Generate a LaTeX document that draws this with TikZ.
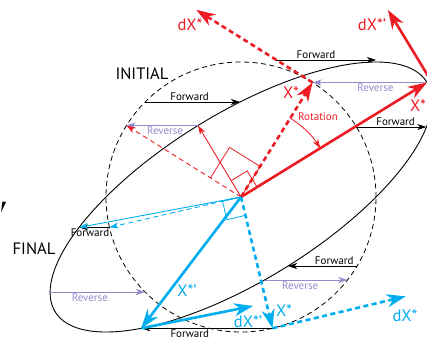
\documentclass[tikz,border=0pt]{standalone}
\usepackage{fontspec}
\setmainfont{PT Sans}
\usetikzlibrary{arrows.meta,positioning}
\definecolor{xred}{RGB}{237,28,36}
\definecolor{xblue}{RGB}{0,174,239}
\definecolor{revcol}{RGB}{146,140,204}

\begin{document}
\begin{tikzpicture}[x=1pt,y=1pt,
thickvec/.style={-{Stealth[length=19pt,width=13pt,inset=6pt]},line width=2.6pt},
thinvec/.style={-{Stealth[length=9pt,width=6pt,inset=2.5pt]},line width=0.9pt},
dsh/.style={dash pattern=on 5pt off 3.5pt},
fwd/.style={thinvec,line width=0.8pt,black},
rev/.style={thinvec,line width=0.8pt,revcol},
tag/.style={font=\fontsize{11}{13}\selectfont,inner sep=1pt},
vlab/.style={font=\fontsize{16.5}{18}\selectfont,inner sep=0pt}]
\useasboundingbox (0,0) rectangle (427,341);
\clip (0,0) rectangle (427,341);
% centre and end points
\coordinate (O) at (241,144);
\coordinate (rC) at (312.5,258.5);
\coordinate (rE) at (427,258.5);
\coordinate (rdC) at (196.3,331.1);
\coordinate (rdE) at (388,331);
\coordinate (rdB) at (433,257);
\coordinate (rmC) at (126.5,215.5);
\coordinate (rmE) at (198,215.5);
\coordinate (bC) at (272.5,12.7);
\coordinate (bE) at (141.2,12.7);
\coordinate (bdC) at (405.7,44.7);
\coordinate (bdE) at (253,35);
\coordinate (bmC) at (109.5,113.6);
\coordinate (bmE) at (79.1,113.6);
% circle and sheared circle
\draw[dsh,line width=0.8pt] (O) circle (135);
\draw[line width=0.9pt,cm={1,0,1,1,(241,144)}] (0,0) circle (135);
% forward / reverse
\coordinate (f1a) at (145,239); \coordinate (f1b) at (240,239);
\coordinate (f2a) at (276,281); \coordinate (f2b) at (376,281);
\coordinate (f3a) at (356.4,214); \coordinate (f3b) at (426.4,214);
\coordinate (f5a) at (357,75); \coordinate (f5b) at (288,75);
\coordinate (r3a) at (50,49); \coordinate (r3b) at (145,49);
\coordinate (r4a) at (264.5,61); \coordinate (r4b) at (347.5,61);
\draw[fwd] (f1a)--node[tag,above,pos=0.47]{Forward}(f1b);
\draw[fwd] (f2a)--node[tag,above,pos=0.4]{Forward}(f2b);
\draw[fwd] (f3a)--node[tag,above,pos=0.56]{Forward}(f3b);
\draw[fwd] (bmC)--node[tag,below,pos=0.64]{Forward}(bmE);
\draw[fwd] (f5a)--node[tag,above,pos=0.33]{Forward}(f5b);
\draw[fwd] (bC)--node[tag,below,pos=0.63]{Forward}(bE);
\draw[rev] (rmE)--node[tag,below,pos=0.46,revcol]{Reverse}(rmC);
\draw[rev] (rE)--node[tag,below,pos=0.45,revcol]{Reverse}(rC);
\draw[rev] (r3a)--node[tag,below,pos=0.42,revcol]{Reverse}(r3b);
\draw[rev] (r4a)--node[tag,below,pos=0.43,revcol]{Reverse}(r4b);
% red vectors
\draw[xred,line width=0.8pt] (O)--++(58:36)--++(148:36)--++(238:36);
\draw[xred,line width=0.8pt] (O)--++(31.6:19)--++(121.6:19)--++(211.6:19);
\draw[thinvec,xred,dsh] (O)--(rmC);
\draw[thinvec,xred] (O)--(rmE);
\draw[thickvec,xred,dsh] (O)--(rC);
\draw[thickvec,xred,dsh] (rC)--(rdC);
\draw[thickvec,xred] (O)--(rE);
\draw[thickvec,xred] (rdB)--(rdE);
\draw[thinvec,xred,line width=0.8pt] ([shift={(58:93)}]O) arc[start angle=58,end angle=31.6,radius=93];
% blue vectors
\draw[xblue,line width=0.8pt] (O)--++(193:19)--++(283.5:19)--++(13.5:19);
\draw[thinvec,xblue,dsh] (O)--(bmC);
\draw[thinvec,xblue] (O)--(bmE);
\draw[thickvec,xblue,dsh] (O)--(bC);
\draw[thickvec,xblue,dsh] (bC)--(bdC);
\draw[thickvec,xblue] (O)--(bE);
\draw[thickvec,xblue] (bE)--(bdE);
% labels
\node[vlab] (init) at (142,267) {INITIAL};
\node[vlab] (fin) at (34,92) {FINAL};
\node[vlab,xred] (ldx) at (190,316) {dX*};
\node[vlab,xred] (ldxp) at (372,316) {dX*’};
\node[vlab,xred] (lxr) at (291,248) {X*};
\node[vlab,xred] (lx) at (418,235) {X*};
\node[inner sep=0pt,font=\fontsize{11}{13}\selectfont,xred] (lrot) at (318,224) {Rotation};
\node[vlab,xblue] (lbxp) at (187,50) {X*’};
\node[vlab,xblue] (lbdxp) at (248,19) {dX*’};
\node[vlab,xblue] (lbx) at (284,30) {X*};
\node[vlab,xblue] (lbdx) at (405,25) {dX*};
\fill (2.5,139.5)--(6,139)--(1,129)--cycle;
\end{tikzpicture}
\end{document}
